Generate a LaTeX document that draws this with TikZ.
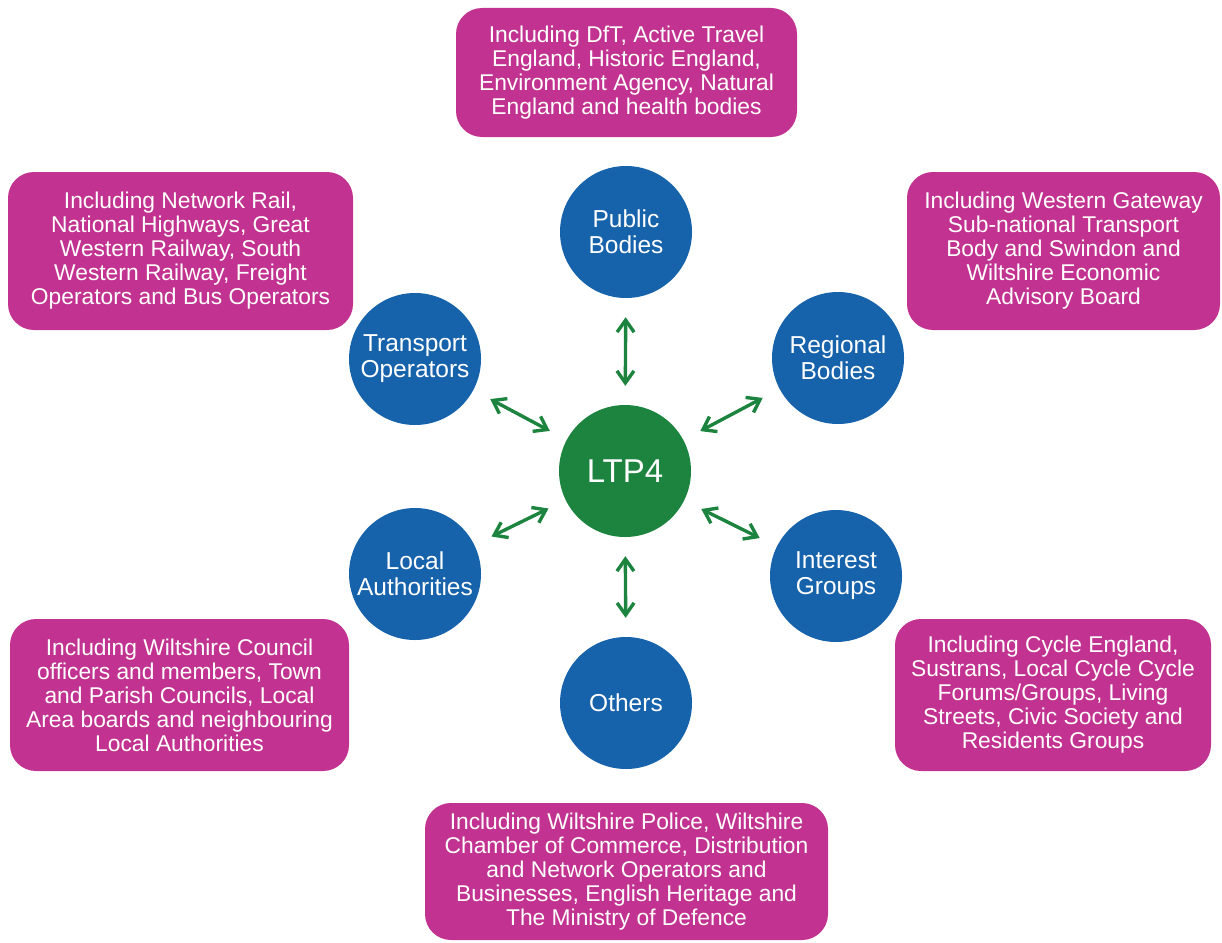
\documentclass[tikz,border=0pt]{standalone}
\usepackage{fontspec}
\setmainfont{Liberation Sans}
\usetikzlibrary{arrows.meta}
\definecolor{ltppink}{RGB}{194,50,145}
\definecolor{ltpblue}{RGB}{22,98,171}
\definecolor{ltpgreen}{RGB}{28,132,62}

\begin{document}
\begin{tikzpicture}[x=1pt, y=-1pt,
    hub/.style={circle, fill=ltpgreen, text=white, minimum size=132pt, inner sep=0pt,
        font=\fontsize{33}{36}\selectfont},
    group/.style={circle, fill=ltpblue, text=white, minimum size=132pt, inner sep=0pt,
        align=center, font=\fontsize{24.5}{26}\selectfont},
    note/.style={rectangle, rounded corners=26pt, fill=ltppink, text=white, inner sep=0pt,
        align=center, font=\fontsize{22.8}{24}\selectfont},
    link/.style={ltpgreen, line width=3.4pt,
        {Straight Barb[length=12pt,width=17pt]}-{Straight Barb[length=12pt,width=17pt]},
        shorten >=19pt, shorten <=19pt}]
    \useasboundingbox (0,0) rectangle (1222,942);
    % Centre
    \node[hub] (ltp) at (625,471) {LTP4};
    % Stakeholder groups
    \node[group] (pub) at (626,232) {Public\\Bodies};
    \node[group] (reg) at (838,358) {Regional\\Bodies};
    \node[group] (int) at (836,576) {Interest\\Groups};
    \node[group] (oth) at (626,703) {Others};
    \node[group] (loc) at (415,574) {Local\\Authorities};
    \node[group] (trn) at (415,359) {Transport\\Operators};
    % Details
    \node[note, minimum width=341pt, minimum height=129pt] (pubnote) at (626.5,72.5)
        {Including DfT, Active Travel\\England, Historic England,\\Environment Agency, Natural\\England and health bodies};
    \node[note, minimum width=345pt, minimum height=158pt] (trnnote) at (180.5,251)
        {Including Network Rail,\\National Highways, Great\\Western Railway, South\\Western Railway, Freight\\Operators and Bus Operators};
    \node[note, minimum width=313pt, minimum height=158pt] (regnote) at (1063.5,251)
        {Including Western Gateway\\Sub-national Transport\\Body and Swindon and\\Wiltshire Economic\\Advisory Board};
    \node[note, minimum width=339pt, minimum height=152pt] (locnote) at (179.5,695)
        {Including Wiltshire Council\\officers and members, Town\\and Parish Councils, Local\\Area boards and neighbouring\\Local Authorities};
    \node[note, minimum width=316pt, minimum height=152pt] (intnote) at (1053,695)
        {Including Cycle England,\\Sustrans, Local Cycle Cycle\\Forums/Groups, Living\\Streets, Civic Society and\\Residents Groups};
    \node[note, minimum width=403pt, minimum height=137pt] (othnote) at (626.5,871.5)
        {Including Wiltshire Police, Wiltshire\\Chamber of Commerce, Distribution\\and Network Operators and\\Businesses, English Heritage and\\The Ministry of Defence};
    % Arrows
    \draw[link] (ltp) -- (pub);
    \draw[link] (ltp) -- (reg);
    \draw[link] (ltp) -- (int);
    \draw[link] (ltp) -- (oth);
    \draw[link] (ltp) -- (loc);
    \draw[link] (ltp) -- (trn);
\end{tikzpicture}
\end{document}
